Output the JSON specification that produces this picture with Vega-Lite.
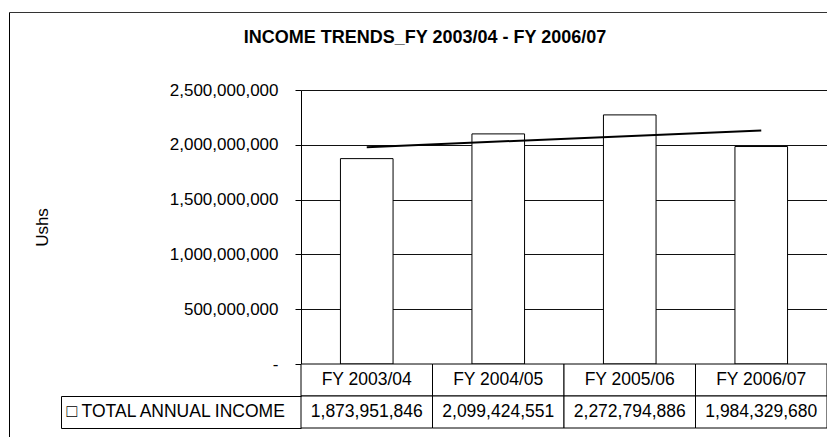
{
  "$schema": "https://vega.github.io/schema/vega-lite/v6.json",
  "autosize": {"type": "none"},
  "padding": {"left": 301, "top": 90, "right": 0, "bottom": 9},
  "width": 526,
  "height": 338,
  "background": "white",
  "config": {"view": {"stroke": null}, "font": "Liberation Sans"},
  "title": {
    "text": "INCOME TRENDS_FY 2003/04 - FY 2006/07",
    "font": "Liberation Sans",
    "fontSize": 18,
    "fontWeight": "bold",
    "color": "#000000",
    "anchor": "middle",
    "frame": "group",
    "dx": -139,
    "dy": 39
  },
  "datasets": {
    "income": [
      {"year": "FY 2003/04", "value": 1873951846},
      {"year": "FY 2004/05", "value": 2099424551},
      {"year": "FY 2005/06", "value": 2272794886},
      {"year": "FY 2006/07", "value": 1984329680}
    ],
    "trend": [
      {"year": "FY 2003/04", "trend": 1978000000},
      {"year": "FY 2006/07", "trend": 2131000000}
    ]
  },
  "layer": [
    {
      "layer": [
        {
          "data": {"name": "income"},
          "mark": {"type": "bar", "fill": "white", "stroke": "black", "strokeWidth": 1},
          "encoding": {
            "x": {"field": "year", "type": "nominal", "sort": null,
                  "scale": {"paddingInner": 0.6, "paddingOuter": 0.3}, "axis": null},
            "y": {"field": "value", "type": "quantitative",
                  "scale": {"domain": [0, 2500000000], "range": [274, 0], "nice": false},
                  "axis": {
                    "orient": "left",
                    "values": [0, 500000000, 1000000000, 1500000000, 2000000000, 2500000000],
                    "labelExpr": "datum.value == 0 ? '-\u00a0\u00a0\u00a0' : format(datum.value, ',')",
                    "grid": true, "gridColor": "#111111", "gridWidth": 1,
                    "domainColor": "#000000", "tickColor": "#000000", "tickSize": 6,
                    "labelPadding": 17, "labelFont": "Liberation Sans", "labelFontSize": 17, "labelColor": "#000000",
                    "title": "Ushs", "titleFont": "Liberation Sans", "titleFontSize": 17, "titleFontWeight": "normal",
                    "titleColor": "#000000", "titleAngle": -90, "titleX": -259, "titleY": 137,
                    "titleAlign": "center", "titleBaseline": "middle"
                  }}
          }
        },
        {
          "data": {"name": "trend"},
          "mark": {"type": "line", "color": "black", "strokeWidth": 2},
          "encoding": {
            "x": {"field": "year", "type": "nominal", "sort": null},
            "y": {"field": "trend", "type": "quantitative"}
          }
        }
      ]
    },
    {
      "data": {"name": "income"},
      "encoding": {
        "x": {"field": "year", "type": "nominal", "sort": null,
              "scale": {"paddingInner": 0, "paddingOuter": 0}, "axis": null}
      },
      "layer": [
        {
          "mark": {"type": "rect", "fill": "white", "stroke": "black", "strokeWidth": 1},
          "encoding": {
            "y": {"datum": "Fiscal year", "type": "nominal",
                  "scale": {"domain": ["Fiscal year", "□ TOTAL ANNUAL INCOME"], "range": [274, 338],
                            "paddingInner": 0, "paddingOuter": 0},
                  "axis": {
                    "orient": "left", "domain": false, "grid": false,
                    "bandPosition": 1, "ticks": true, "tickSize": 240, "tickColor": "#000000",
                    "labelExpr": "datum.value == 'Fiscal year' ? '' : datum.label",
                    "labelAlign": "left", "labelPadding": -5, "labelOffset": 0, "labelLimit": 400,
                    "labelFont": "Liberation Sans, DejaVu Sans", "labelFontSize": 17.5, "labelColor": "#000000",
                    "labelBaseline": "middle", "title": null
                  }}
          }
        },
        {
          "mark": {"type": "rect", "fill": "white", "stroke": "black", "strokeWidth": 1},
          "encoding": {"y": {"datum": "□ TOTAL ANNUAL INCOME", "type": "nominal"}}
        },
        {
          "mark": {"type": "text", "font": "Liberation Sans", "fontSize": 17.5, "color": "black"},
          "encoding": {
            "y": {"datum": "Fiscal year", "type": "nominal"},
            "text": {"field": "year", "type": "nominal"}
          }
        },
        {
          "mark": {"type": "text", "font": "Liberation Sans", "fontSize": 17.5, "color": "black"},
          "encoding": {
            "y": {"datum": "□ TOTAL ANNUAL INCOME", "type": "nominal"},
            "text": {"field": "value", "type": "quantitative", "format": ","}
          }
        }
      ]
    },
    {
      "data": {"name": "income"},
      "mark": {"type": "point", "opacity": 0},
      "encoding": {
        "y": {"datum": "□ TOTAL ANNUAL INCOME", "type": "nominal",
              "scale": {"range": [306, 338], "paddingInner": 0, "paddingOuter": 0},
              "axis": {"orient": "left", "offset": 240, "domain": true, "domainColor": "#000000",
                       "ticks": false, "labels": false, "grid": false, "title": null}}
      }
    },
    {
      "data": {"name": "income"},
      "mark": {"type": "point", "opacity": 0},
      "encoding": {
        "x": {"field": "year", "type": "nominal", "sort": null,
              "scale": {"range": [-292, 530]},
              "axis": {"orient": "top", "offset": 78, "domain": true, "domainColor": "#333333",
                       "ticks": false, "labels": false, "grid": false, "title": null}},
        "y": {"field": "value", "type": "quantitative",
              "scale": {"range": [347, -78]},
              "axis": {"orient": "left", "offset": 292, "domain": true, "domainColor": "#000000",
                       "ticks": false, "labels": false, "grid": false, "title": null}}
      }
    }
  ],
  "resolve": {"scale": {"x": "independent", "y": "independent"}}
}
